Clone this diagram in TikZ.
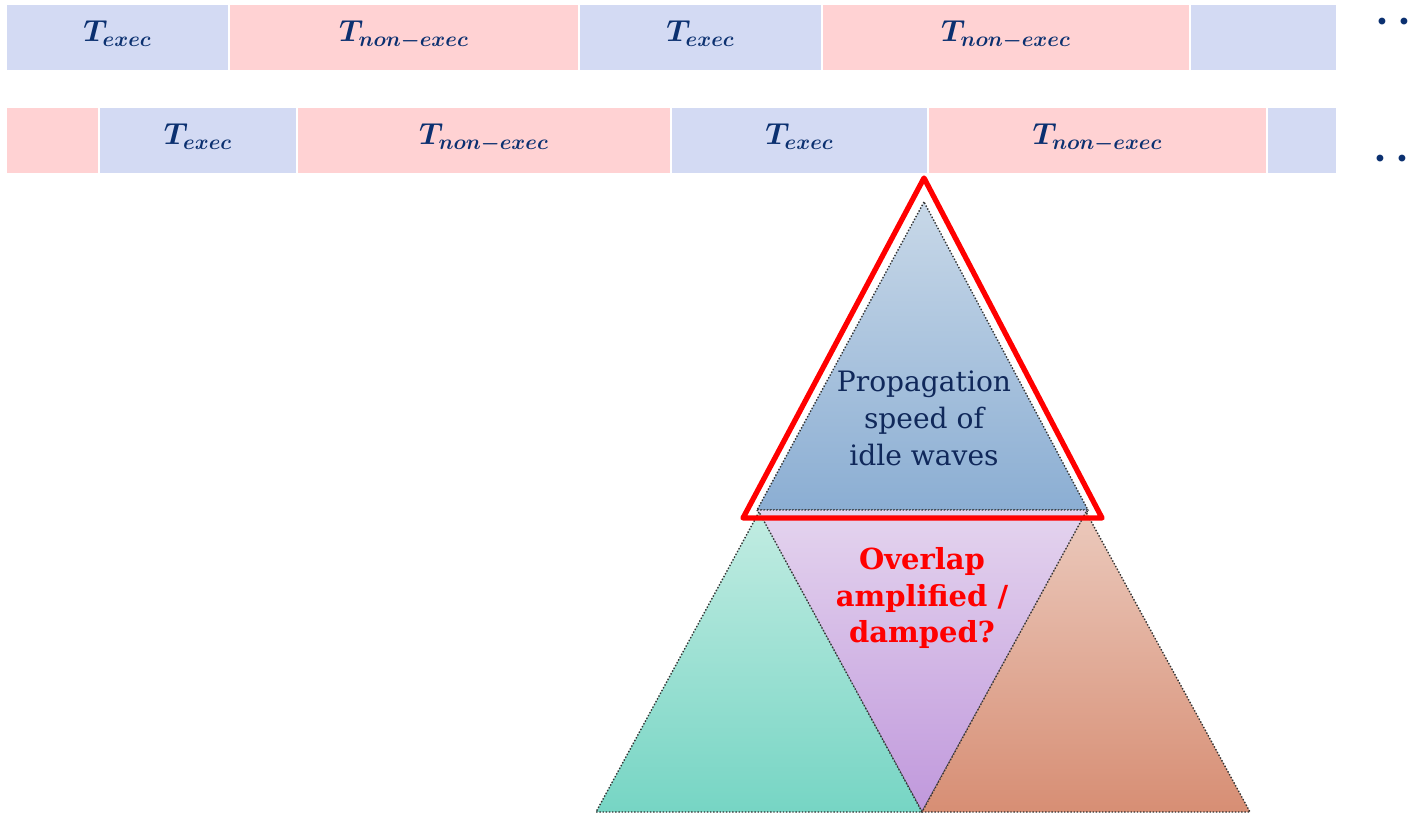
\documentclass[tikz,border=0pt]{standalone}
\usepackage{fontspec}
\setmainfont{DejaVu Serif}
\usepackage{amsmath, bm}
\usetikzlibrary{positioning}
\definecolor{execblue}{HTML}{D3DAF3}
\definecolor{nonpink}{HTML}{FFD2D3}
\definecolor{labelnavy}{HTML}{0B3070}
\definecolor{textnavy}{HTML}{10285A}
\newcommand{\Texec}{{\boldmath$T_{exec}$}}
\newcommand{\Tnon}{{\boldmath$T_{non-exec}$}}
\newcommand{\moredots}{{\boldmath$\cdots$}}

\begin{document}
\begin{tikzpicture}[
        node distance=0.04cm and 0.04cm,
        % 実行区間のスタイル
        exec/.style={rectangle, fill=execblue, minimum height=1.3cm, inner sep=0pt, outer sep=0pt, text depth=0.24cm, text=labelnavy, font=\fontsize{16.5}{19}\selectfont},
        % 非実行区間のスタイル
        nonexec/.style={exec, fill=nonpink},
        % 省略記号のスタイル
        dots/.style={inner sep=0pt, outer sep=0pt, text=labelnavy, font=\fontsize{26}{30}\selectfont, anchor=base west},
        % 三角形の枠のスタイル
        tri/.style={draw=black!80, densely dotted, line width=0.8pt},
        % 三角形の中の文字のスタイル
        idle/.style={align=center, text=textnavy, font=\fontsize{16}{21}\selectfont},
        overlap/.style={align=center, text=red, font=\fontsize{16.5}{21}\selectfont\bfseries}
    ]
    \useasboundingbox (0,0) rectangle (28.24,-16.34);

    % 上の段
    \node[exec, minimum width=4.42cm, anchor=north west] (e1) at (0.14,-0.1) {\Texec};
    \node[nonexec, minimum width=6.96cm, right=of e1] (n1) {\Tnon};
    \node[exec, minimum width=4.82cm, right=of n1] (e2) {\Texec};
    \node[nonexec, minimum width=7.32cm, right=of e2] (n2) {\Tnon};
    \node[exec, minimum width=2.90cm, right=of n2] (e3) {};
    \node[dots] (d1) at (27.50,-0.65) {\moredots};

    % 下の段
    \node[nonexec, minimum width=1.82cm, anchor=north west] (m0) at (0.14,-2.16) {};
    \node[exec, minimum width=3.92cm, right=of m0] (f1) {\Texec};
    \node[nonexec, minimum width=7.44cm, right=of f1] (m1) {\Tnon};
    \node[exec, minimum width=5.10cm, right=of m1] (f2) {\Texec};
    \node[nonexec, minimum width=6.74cm, right=of f2] (m2) {\Tnon};
    \node[exec, minimum width=1.36cm, right=of m2] (f3) {};
    \node[dots] (d2) at (27.46,-3.39) {\moredots};

    % 三角形の頂点
    \coordinate (apex) at (18.48,-4.04);
    \coordinate (midl) at (15.14,-10.20);
    \coordinate (midr) at (21.76,-10.20);
    \coordinate (low) at (18.44,-16.24);
    \coordinate (gtop) at (15.18,-10.24);
    \coordinate (gleft) at (11.92,-16.24);
    \coordinate (otop) at (21.72,-10.24);
    \coordinate (oright) at (25.00,-16.24);

    % 三角形
    \shade[tri, top color={rgb,255:red,200;green,216;blue,232}, bottom color={rgb,255:red,139;green,174;blue,211}] (apex) -- (midl) -- (midr) -- cycle;
    \shade[tri, top color={rgb,255:red,228;green,212;blue,238}, bottom color={rgb,255:red,192;green,152;blue,220}] (midl) -- (midr) -- (low) -- cycle;
    \shade[tri, top color={rgb,255:red,194;green,236;blue,226}, bottom color={rgb,255:red,118;green,213;blue,196}] (gtop) -- (gleft) -- (low) -- cycle;
    \shade[tri, top color={rgb,255:red,235;green,201;blue,188}, bottom color={rgb,255:red,215;green,142;blue,116}] (otop) -- (low) -- (oright) -- cycle;

    % 赤い枠
    \draw[red, line width=3pt, line join=round] (18.48,-3.56) -- (14.86,-10.36) -- (22.04,-10.36) -- cycle;

    % 文字
    \node[idle] (speed) at (18.48,-8.36) {Propagation\\speed of\\idle waves};
    \node[overlap] (amp) at (18.44,-11.96) {Overlap\\amplified /\\damped?};

    \end{tikzpicture}
\end{document}
